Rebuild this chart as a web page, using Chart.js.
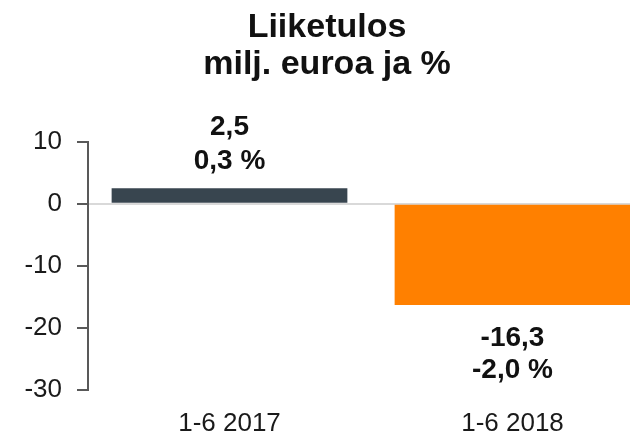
<!DOCTYPE html>
<html>
<head>
<meta charset="utf-8">
<script src="https://cdn.jsdelivr.net/npm/chart.js@4/dist/chart.umd.min.js"></script>
<style>
  html, body { margin: 0; padding: 0; background: #fff; overflow: hidden; }
  #wrap { width: 690px; height: 439px; }
</style>
</head>
<body>
<div id="wrap"><canvas id="resultChart" width="690" height="439"></canvas></div>
<script>
const categories = ["1-6 2017", "1-6 2018"];
const resultValues = [2.5, -16.3];
const resultPercents = [0.3, -2.0];
const barColors = ["#38454f", "#ff8000"];
const titleLines = ["Liiketulos", "milj. euroa ja %"];
const yMin = -30;
const yMax = 10;
const yStep = 10;

const fiNumber = v => v.toFixed(1).replace(".", ",");

// two-line value labels above / below each bar
const barLabels = {
  id: "barLabels",
  afterDatasetsDraw(chart) {
    const ctx = chart.ctx;
    const meta = chart.getDatasetMeta(0);
    ctx.save();
    ctx.fillStyle = "#111";
    ctx.font = "bold 28px 'Liberation Sans', Arial, sans-serif";
    ctx.textAlign = "center";
    ctx.textBaseline = "alphabetic";
    meta.data.forEach((bar, i) => {
      const v = resultValues[i];
      const line1 = fiNumber(v);
      const line2 = fiNumber(resultPercents[i]) + " %";
      if (v >= 0) {
        ctx.fillText(line1, bar.x, bar.y - 53);
        ctx.fillText(line2, bar.x, bar.y - 19);
      } else {
        ctx.fillText(line1, bar.x, bar.y + 41);
        ctx.fillText(line2, bar.x, bar.y + 73);
      }
    });
    ctx.restore();
  }
};

new Chart(document.getElementById("resultChart"), {
  type: "bar",
  data: {
    labels: categories,
    datasets: [{
      data: resultValues,
      backgroundColor: barColors,
      borderWidth: 0,
      categoryPercentage: 1,
      barPercentage: 0.833
    }]
  },
  options: {
    responsive: false,
    animation: false,
    layout: { padding: { left: 0, right: 36, top: 0, bottom: 0 } },
    plugins: {
      legend: { display: false },
      tooltip: { enabled: false },
      title: {
        display: true,
        text: titleLines,
        color: "#111",
        font: { family: "'Liberation Sans', Arial, sans-serif", size: 34, weight: "bold", lineHeight: 1.1 },
        padding: { top: 9, bottom: 58 }
      }
    },
    scales: {
      x: {
        afterFit: s => { s.height = 49; },
        grid: { display: false, drawTicks: false },
        border: { display: false },
        ticks: {
          color: "#1a1a1a",
          padding: 18,
          font: { family: "'Liberation Sans', Arial, sans-serif", size: 26 }
        }
      },
      y: {
        min: yMin,
        max: yMax,
        afterFit: s => { s.width = 88; },
        border: { display: true, color: "#595959", width: 2 },
        grid: {
          drawTicks: true,
          tickLength: 11,
          tickColor: "#595959",
          tickWidth: 2,
          color: c => (c.tick && c.tick.value === 0 ? "#d9d9d9" : "transparent"),
          lineWidth: 2
        },
        ticks: {
          stepSize: yStep,
          color: "#1a1a1a",
          padding: 15,
          font: { family: "'Liberation Sans', Arial, sans-serif", size: 26 }
        }
      }
    }
  },
  plugins: [barLabels]
});
</script>
</body>
</html>
